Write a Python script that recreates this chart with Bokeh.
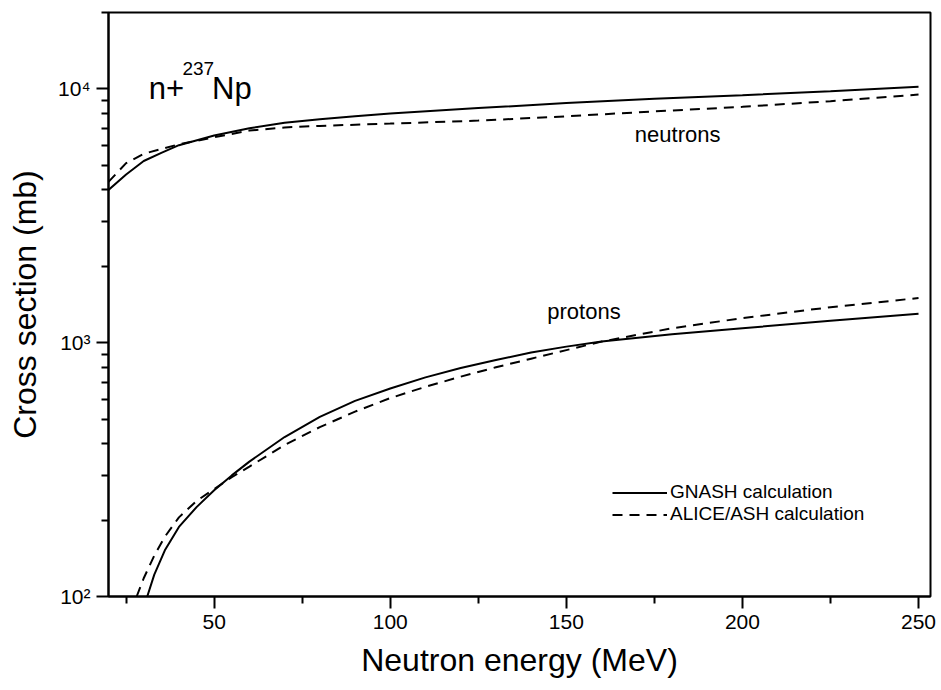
from bokeh.plotting import figure
from bokeh.models import Range1d, FixedTicker, Label, Legend, LegendItem
from bokeh.embed import file_html
from bokeh.resources import INLINE

# ---- data ----
E_n_gnash = [20, 25, 30, 35, 40, 50, 60, 70, 80, 90, 100, 125, 150, 175, 200, 225, 250]
sig_n_gnash = [4000, 4600, 5200, 5600, 6000, 6550, 7000, 7350, 7600, 7800, 8000, 8400,
               8800, 9150, 9450, 9800, 10200]

E_n_alice = [20, 25, 30, 35, 40, 50, 60, 70, 80, 100, 125, 150, 175, 200, 225, 250]
sig_n_alice = [4300, 5100, 5550, 5800, 6050, 6450, 6850, 7050, 7150, 7300, 7500, 7800,
               8150, 8500, 8950, 9500]

E_p_gnash = [31, 33, 36, 40, 45, 50, 55, 60, 70, 80, 90, 100, 110, 120, 130, 140, 150,
             160, 180, 200, 225, 250]
sig_p_gnash = [100, 122, 152, 188, 225, 262, 300, 340, 425, 510, 590, 660, 730, 795,
               855, 915, 965, 1010, 1080, 1140, 1220, 1300]

E_p_alice = [28, 30, 33, 36, 40, 45, 50, 55, 60, 70, 80, 90, 100, 110, 120, 130, 140,
             150, 160, 180, 200, 225, 250]
sig_p_alice = [100, 118, 145, 172, 205, 238, 265, 295, 325, 395, 465, 535, 605, 670,
               735, 800, 865, 935, 1010, 1140, 1250, 1380, 1500]

x_major = [50, 100, 150, 200, 250]
x_minor = [25, 75, 125, 175, 225]
y_major = [100, 1000, 10000]
y_minor = [200, 300, 400, 500, 600, 700, 800, 900,
           2000, 3000, 4000, 5000, 6000, 7000, 8000, 9000, 20000]
y_labels = {100: "10²", 1000: "10³", 10000: "10⁴"}

FONT = "Liberation Sans"

p = figure(width=941, height=690, y_axis_type="log",
           x_range=Range1d(20, 253.4), y_range=Range1d(100, 20000),
           output_backend="svg", toolbar_location=None,
           min_border_left=108, min_border_right=11,
           min_border_top=12, min_border_bottom=94)
p.frame_width = 822
p.frame_height = 584
p.background_fill_color = "white"
p.border_fill_color = "white"
p.xgrid.visible = False
p.ygrid.visible = False
p.outline_line_color = "black"
p.outline_line_width = 2

for ax in (p.xaxis[0], p.yaxis[0]):
    ax.axis_line_width = 2
    ax.major_tick_line_width = 2
    ax.minor_tick_line_width = 2
    ax.major_tick_in = 0
    ax.major_tick_out = 12
    ax.minor_tick_in = 0
    ax.minor_tick_out = 7
    ax.major_label_text_font = FONT
    ax.major_label_text_font_size = "21px"
    ax.major_label_text_color = "black"
    ax.axis_label_text_font = FONT
    ax.axis_label_text_font_style = "normal"
    ax.axis_label_text_font_size = "32px"
    ax.axis_label_text_color = "black"

p.xaxis[0].ticker = FixedTicker(ticks=x_major, minor_ticks=x_minor)
p.yaxis[0].ticker = FixedTicker(ticks=y_major, minor_ticks=y_minor)
p.yaxis[0].major_label_overrides = y_labels
p.xaxis[0].axis_label = "Neutron energy (MeV)"
p.yaxis[0].axis_label = "Cross section (mb)"
p.xaxis[0].major_label_standoff = 6
p.xaxis[0].axis_label_standoff = 10
p.yaxis[0].major_label_standoff = 6
p.yaxis[0].axis_label_standoff = 12

r1 = p.line(E_n_gnash, sig_n_gnash, line_color="black", line_width=2)
r2 = p.line(E_n_alice, sig_n_alice, line_color="black", line_width=2, line_dash="10 7")
p.line(E_p_gnash, sig_p_gnash, line_color="black", line_width=2)
p.line(E_p_alice, sig_p_alice, line_color="black", line_width=2, line_dash="10 7")

legend = Legend(items=[LegendItem(label="GNASH calculation", renderers=[r1]),
                       LegendItem(label="ALICE/ASH calculation", renderers=[r2])],
                location=(504, 71), orientation="vertical",
                border_line_color=None, background_fill_alpha=0,
                padding=0, margin=0, spacing=0,
                glyph_width=55, glyph_height=19, label_height=19,
                label_standoff=3,
                label_text_font=FONT, label_text_font_size="19px",
                label_text_color="black")
p.add_layout(legend)

p.add_layout(Label(x=181.6, y=6590, text="neutrons", text_align="center",
                   text_baseline="middle", text_font=FONT,
                   text_font_size="22px", text_color="black"))
p.add_layout(Label(x=155, y=1325, text="protons", text_align="center",
                   text_baseline="middle", text_font=FONT,
                   text_font_size="22px", text_color="black"))

p.add_layout(Label(x=31.4, y=10000, text="n+", text_align="left",
                   text_baseline="alphabetic", text_font=FONT,
                   text_font_size="31px", text_color="black"))
p.add_layout(Label(x=41.0, y=12000, text="237", text_align="left",
                   text_baseline="alphabetic", text_font=FONT,
                   text_font_size="19px", text_color="black"))
p.add_layout(Label(x=49.4, y=10000, text="Np", text_align="left",
                   text_baseline="alphabetic", text_font=FONT,
                   text_font_size="31px", text_color="black"))

open("out.html", "w").write(file_html(p, INLINE))
